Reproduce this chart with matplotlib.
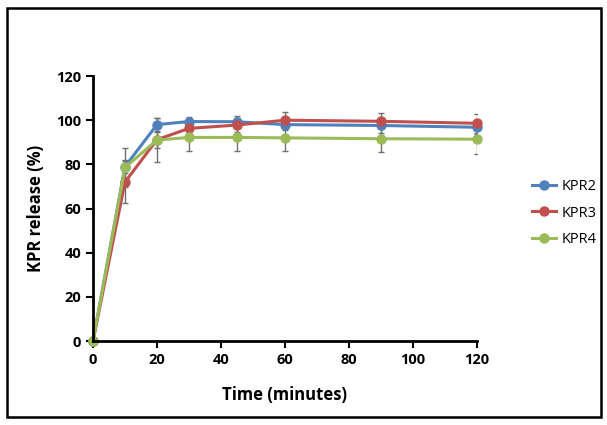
import matplotlib.pyplot as plt
from matplotlib.patches import Rectangle
from matplotlib.lines import Line2D

# dissolution data
time = [0, 10, 20, 30, 45, 60, 90, 120]
kpr2 = [0, 79.0, 98.0, 99.4, 99.3, 98.0, 97.6, 96.8]
kpr3 = [0, 72.0, 91.2, 96.3, 97.8, 100.0, 99.5, 98.6]
kpr4 = [0, 78.6, 91.0, 92.2, 92.2, 92.0, 91.6, 91.4]
kpr2_err = [0, 3.0, 3.2, 2.0, 2.6, 2.5, 3.5, 3.0]
kpr3_err = [0, 9.5, 4.0, 3.0, 3.0, 3.5, 3.6, 4.2]
kpr4_err = [0, 8.8, 10.0, 6.0, 6.0, 6.0, 6.0, 6.6]
labels = ["KPR2", "KPR3", "KPR4"]
colors = ["#4F81BD", "#C0504D", "#9BBB59"]

plt.rcParams["font.family"] = ["Open Sans", "DejaVu Sans"]

fig = plt.figure(figsize=(6.07, 4.25), dpi=100)
ax = fig.add_axes([0.1532, 0.1976, 0.6326, 0.6235])

# outer frame
fig.patches.append(Rectangle((0.012, 0.02), 0.978, 0.962, transform=fig.transFigure,
                             fill=False, edgecolor="black", linewidth=1.8))

for y, err, c in zip([kpr2, kpr3, kpr4], [kpr2_err, kpr3_err, kpr4_err], colors):
    eb = ax.errorbar(time, y, yerr=err, color=c, ecolor="#707070", elinewidth=1.0,
                     capsize=2.5, capthick=1.0, marker="o", markersize=6.5,
                     linewidth=2.2)
    eb.lines[0].set_clip_on(False)

ax.set_xlim(0, 120)
ax.set_ylim(0, 120)
ax.set_xticks(range(0, 121, 20))
ax.set_yticks(range(0, 121, 20))
for s in ["top", "right"]:
    ax.spines[s].set_visible(False)
for s in ["left", "bottom"]:
    ax.spines[s].set_linewidth(2.0)
ax.tick_params(direction="out", length=5, width=1.5, labelsize=10.5)
for t in ax.get_xticklabels() + ax.get_yticklabels():
    t.set_fontweight("bold")

ax.set_xlabel("Time (minutes)", fontsize=12, fontweight="bold", labelpad=14)
ax.set_ylabel("KPR release (%)", fontsize=12, fontweight="bold", labelpad=8)

handles = [Line2D([], [], color=c, marker="o", markersize=6.5, linewidth=2.2) for c in colors]
ax.legend(handles, labels, loc="center left", bbox_to_anchor=(1.11, 0.483), frameon=False,
          fontsize=10.5, handlelength=1.6, handletextpad=0.4, labelspacing=0.8)

fig.savefig("out.png", dpi=100)
